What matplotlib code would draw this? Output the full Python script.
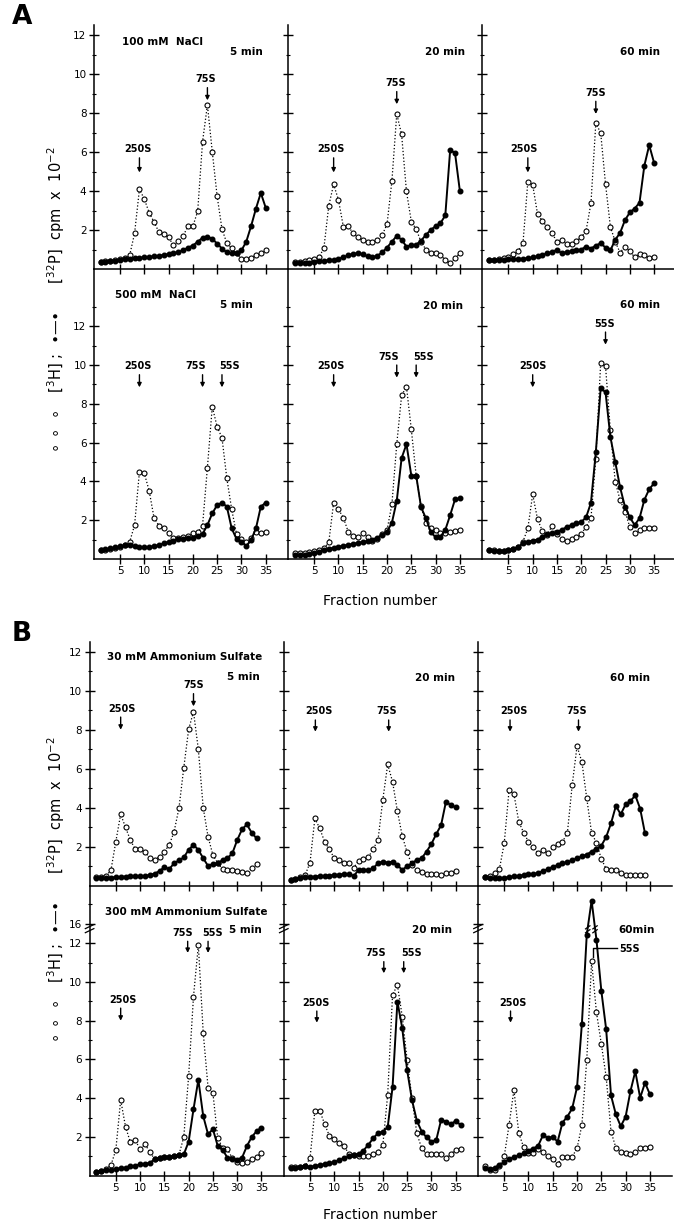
import numpy as np
import matplotlib
matplotlib.use("Agg")
import matplotlib.pyplot as plt
from matplotlib.ticker import FixedLocator, NullFormatter

plt.rcParams['font.family'] = ['DejaVu Sans']

# ---------------- data (fraction number vs cpm x 10^-2) ----------------
fr34 = np.arange(1, 35)
fr35 = np.arange(1, 36)
fr36 = np.arange(1, 37)

# Panel A : NaCl
na100_5_3H = [0.37, 0.40, 0.42, 0.45, 0.50, 0.55, 0.72, 1.83, 4.09, 3.59, 2.89, 2.41, 1.90, 1.78, 1.63,
              1.21, 1.42, 1.70, 2.19, 2.18, 2.97, 6.53, 8.41, 6.02, 3.74, 2.05, 1.32, 1.06, 0.80, 0.53,
              0.53, 0.56, 0.72, 0.80, 0.97]
na100_5_32P = [0.35, 0.38, 0.40, 0.43, 0.47, 0.50, 0.52, 0.55, 0.57, 0.60, 0.62, 0.65, 0.68, 0.72, 0.76,
               0.80, 0.88, 0.95, 1.10, 1.20, 1.40, 1.60, 1.65, 1.55, 1.30, 1.05, 0.85, 0.80, 0.80, 0.95,
               1.40, 2.20, 3.10, 3.90, 3.15]
na100_20_3H = [0.37, 0.38, 0.42, 0.48, 0.52, 0.59, 1.09, 3.25, 4.34, 3.54, 2.17, 2.20, 1.83, 1.62, 1.49,
               1.40, 1.37, 1.49, 1.74, 2.30, 4.51, 7.95, 6.90, 3.98, 2.43, 2.04, 1.40, 1.00, 0.80, 0.80,
               0.72, 0.46, 0.29, 0.55, 0.80]
na100_20_32P = [0.30, 0.30, 0.30, 0.32, 0.35, 0.40, 0.42, 0.45, 0.48, 0.52, 0.60, 0.70, 0.78, 0.80, 0.75,
                0.65, 0.60, 0.68, 0.85, 1.10, 1.40, 1.70, 1.50, 1.15, 1.22, 1.25, 1.45, 1.75, 2.00, 2.20,
                2.35, 2.75, 6.10, 5.95, 4.00]
na100_60_3H = [0.46, 0.48, 0.52, 0.58, 0.63, 0.75, 0.92, 1.32, 4.48, 4.31, 2.82, 2.46, 2.15, 1.83, 1.40,
               1.49, 1.28, 1.28, 1.45, 1.62, 1.97, 3.37, 7.47, 6.99, 4.36, 2.17, 1.40, 0.84, 1.15, 0.92,
               0.60, 0.75, 0.72, 0.56, 0.60]
na100_60_32P = [0.45, 0.45, 0.47, 0.48, 0.50, 0.50, 0.52, 0.53, 0.55, 0.60, 0.65, 0.72, 0.80, 0.88, 0.98,
                0.80, 0.88, 0.90, 0.95, 1.00, 1.15, 1.05, 1.20, 1.32, 1.10, 0.95, 1.50, 1.85, 2.50, 2.90,
                3.10, 3.40, 5.30, 6.35, 5.45]

na500_5_3H = [0.46, 0.48, 0.50, 0.55, 0.60, 0.70, 0.89, 1.75, 4.50, 4.42, 3.52, 2.13, 1.72, 1.58, 1.32,
              1.10, 1.10, 1.12, 1.18, 1.32, 1.37, 1.72, 4.71, 7.85, 6.82, 6.25, 4.16, 2.56, 1.29, 1.03,
              0.86, 1.10, 1.41, 1.36, 1.41]
na500_5_32P = [0.46, 0.50, 0.55, 0.60, 0.65, 0.70, 0.72, 0.68, 0.62, 0.60, 0.62, 0.66, 0.72, 0.80, 0.89,
               0.95, 1.01, 1.05, 1.08, 1.10, 1.20, 1.29, 1.75, 2.35, 2.78, 2.90, 2.70, 1.58, 1.03, 0.89,
               0.67, 0.98, 1.58, 2.70, 2.90]
na500_20_3H = [0.30, 0.30, 0.30, 0.35, 0.40, 0.45, 0.55, 0.86, 2.90, 2.56, 2.13, 1.41, 1.18, 1.15, 1.35,
               1.15, 0.93, 1.01, 1.29, 1.49, 2.82, 5.92, 8.43, 8.88, 6.68, 4.30, 2.71, 1.86, 1.60, 1.49,
               1.35, 1.35, 1.38, 1.43, 1.49]
na500_20_32P = [0.20, 0.20, 0.22, 0.25, 0.30, 0.35, 0.45, 0.52, 0.58, 0.63, 0.68, 0.73, 0.78, 0.83, 0.88,
                0.93, 1.00, 1.10, 1.25, 1.41, 1.87, 3.00, 5.20, 5.92, 4.30, 4.30, 2.68, 2.10, 1.40, 1.12,
                1.15, 1.50, 2.26, 3.07, 3.12]
na500_60_3H = [0.46, 0.44, 0.43, 0.43, 0.45, 0.50, 0.60, 0.90, 1.58, 3.33, 2.05, 1.44, 1.24, 1.72, 1.29,
               1.01, 0.95, 1.01, 1.12, 1.29, 1.66, 2.09, 5.16, 10.08, 9.94, 6.64, 3.98, 3.04, 2.44, 1.66,
               1.35, 1.52, 1.61, 1.61, 1.61]
na500_60_32P = [0.45, 0.42, 0.40, 0.42, 0.45, 0.50, 0.62, 0.80, 0.90, 0.95, 1.00, 1.15, 1.30, 1.32, 1.40,
                1.50, 1.65, 1.75, 1.85, 1.90, 2.15, 2.90, 5.50, 8.80, 8.60, 6.30, 5.00, 3.70, 2.70, 2.15,
                1.75, 2.10, 3.05, 3.60, 3.90]

# Panel B : ammonium sulfate
as30_5_3H = [0.43, 0.45, 0.50, 0.80, 2.26, 3.67, 2.99, 2.34, 1.87, 1.87, 1.75, 1.41, 1.32, 1.49, 1.75,
             2.09, 2.77, 3.97, 6.05, 8.02, 8.92, 6.99, 4.00, 2.51, 1.57, 1.15, 0.84, 0.80, 0.80, 0.77,
             0.72, 0.67, 0.89, 1.10]
as30_5_32P = [0.38, 0.40, 0.40, 0.42, 0.43, 0.45, 0.47, 0.48, 0.50, 0.50, 0.50, 0.55, 0.62, 0.75, 0.95,
              0.85, 1.15, 1.30, 1.45, 1.84, 2.09, 1.84, 1.41, 1.01, 1.12, 1.15, 1.32, 1.41, 1.66, 2.34,
              2.89, 3.14, 2.71, 2.43]
as30_20_3H = [0.30, 0.35, 0.45, 0.55, 1.18, 3.45, 2.94, 2.26, 1.86, 1.41, 1.32, 1.18, 1.18, 0.92, 1.28,
              1.35, 1.45, 1.88, 2.34, 4.42, 6.22, 5.33, 3.82, 2.55, 1.71, 1.06, 0.80, 0.72, 0.60, 0.58,
              0.58, 0.55, 0.63, 0.63, 0.77]
as30_20_32P = [0.30, 0.35, 0.38, 0.43, 0.45, 0.47, 0.50, 0.50, 0.52, 0.55, 0.57, 0.60, 0.60, 0.50, 0.80,
               0.80, 0.80, 0.89, 1.15, 1.24, 1.18, 1.24, 1.06, 0.80, 1.01, 1.15, 1.32, 1.41, 1.75, 2.14,
               2.65, 3.11, 4.31, 4.14, 4.02]
as30_60_3H = [0.46, 0.50, 0.63, 0.84, 2.17, 4.91, 4.70, 3.28, 2.72, 2.26, 1.97, 1.66, 1.83, 1.66, 1.97,
              2.14, 2.26, 2.68, 5.16, 7.16, 6.34, 4.48, 2.70, 2.20, 1.38, 0.86, 0.81, 0.81, 0.64, 0.56,
              0.56, 0.56, 0.56, 0.56]
as30_60_32P = [0.43, 0.42, 0.40, 0.40, 0.40, 0.45, 0.48, 0.50, 0.55, 0.58, 0.60, 0.65, 0.75, 0.85, 0.97,
               1.05, 1.15, 1.20, 1.30, 1.40, 1.50, 1.60, 1.75, 1.90, 2.05, 2.50, 3.20, 4.09, 3.66, 4.17,
               4.34, 4.63, 3.95, 2.68]

as300_5_3H = [0.21, 0.25, 0.35, 0.55, 1.33, 3.91, 2.53, 1.72, 1.84, 1.36, 1.62, 1.24, 0.85, 0.90, 0.95,
              0.98, 1.02, 1.07, 2.00, 5.15, 9.25, 11.90, 7.39, 4.55, 4.26, 1.93, 1.45, 1.36, 0.90, 0.72,
              0.64, 0.72, 0.85, 0.98, 1.19]
as300_5_32P = [0.21, 0.25, 0.28, 0.30, 0.35, 0.38, 0.42, 0.48, 0.52, 0.58, 0.62, 0.66, 0.85, 0.90, 0.95,
               0.98, 1.00, 1.07, 1.10, 1.76, 3.43, 4.95, 3.08, 2.14, 2.40, 1.53, 1.33, 0.93, 0.88, 0.83,
               0.93, 1.53, 2.00, 2.30, 2.47]
as300_20_3H = [0.46, 0.45, 0.45, 0.50, 0.90, 3.36, 3.36, 2.67, 2.05, 1.88, 1.67, 1.55, 1.12, 1.07, 1.02,
               1.02, 1.02, 1.12, 1.24, 1.59, 4.19, 9.33, 9.85, 8.21, 5.97, 3.99, 2.19, 1.41, 1.10, 1.10,
               1.10, 1.10, 0.93, 1.12, 1.33, 1.36]
as300_20_32P = [0.38, 0.40, 0.45, 0.50, 0.46, 0.50, 0.55, 0.60, 0.65, 0.70, 0.80, 0.90, 1.00, 1.07, 1.12,
                1.30, 1.59, 1.93, 2.19, 2.28, 2.50, 4.57, 8.99, 7.61, 5.45, 3.91, 2.84, 2.28, 1.98, 1.76,
                1.84, 2.88, 2.79, 2.65, 2.83, 2.62]
as300_60_3H = [0.49, 0.29, 0.29, 0.50, 1.00, 2.62, 4.43, 2.19, 1.47, 1.19, 1.19, 1.36, 1.24, 1.02, 0.85,
               0.60, 0.98, 0.98, 0.98, 1.41, 2.62, 5.98, 11.06, 8.43, 6.80, 5.10, 2.27, 1.45, 1.24, 1.19,
               1.12, 1.24, 1.45, 1.45, 1.50]
as300_60_32P = [0.38, 0.35, 0.40, 0.55, 0.70, 0.85, 0.95, 1.05, 1.15, 1.30, 1.40, 1.55, 2.10, 1.95, 2.00,
                1.76, 2.74, 3.05, 3.47, 4.57, 7.85, 12.44, 17.20, 12.18, 9.55, 7.55, 4.14, 3.16, 2.55, 3.04,
                4.36, 5.39, 4.02, 4.80, 4.20]

x_ticks = [5, 10, 15, 20, 25, 30, 35]
y_major = [2, 4, 6, 8, 10, 12]
y_minor = [1, 3, 5, 7, 9, 11]

# broken axis for the 300 mM ammonium sulfate row
BRK_REAL = [-50.0, 12.5, 16.0, 60.0]
BRK_DRAW = [-50.0, 12.5, 13.0, 57.0]


def fwd(y):
    return np.interp(y, BRK_REAL, BRK_DRAW)


def inv(y):
    return np.interp(y, BRK_DRAW, BRK_REAL)


# ---------------- figure ----------------
W, H = 674, 1227
fig = plt.figure(figsize=(W / 100, H / 100), dpi=100)

COLW = 194.2
XL = (-0.4, 39.6)
TXT = dict(fontsize=7.5, fontweight='bold', color='black')


def add_ax(left, top, width, height):
    return fig.add_axes([left / W, 1 - (top + height) / H, width / W, height / H])


def style(ax, col, bottom_row, ytop, broken=False):
    ax.set_xlim(*XL)
    if broken:
        ax.set_yscale('function', functions=(fwd, inv))
        ax.set_ylim(0, inv(ytop))
        ax.yaxis.set_major_locator(FixedLocator(y_major + [16]))
        ax.yaxis.set_minor_locator(FixedLocator(y_minor + [17]))
    else:
        ax.set_ylim(0, ytop)
        ax.yaxis.set_major_locator(FixedLocator(y_major))
        ax.yaxis.set_minor_locator(FixedLocator(y_minor + ([13] if ytop > 13.5 else [])))
    ax.xaxis.set_major_locator(FixedLocator(x_ticks))
    for s in ('top', 'right'):
        ax.spines[s].set_visible(False)
    for s in ('left', 'bottom'):
        ax.spines[s].set_linewidth(1.1)
    ax.tick_params(which='major', direction='inout', length=6.5, width=1.0, labelsize=7.5, pad=2)
    ax.tick_params(which='minor', direction='inout', length=3.5, width=0.8)
    if col != 0:
        ax.yaxis.set_major_formatter(NullFormatter())
    if not bottom_row:
        ax.xaxis.set_major_formatter(NullFormatter())
    ax.patch.set_alpha(0)


def draw(ax, fr, h3, p32):
    ax.plot(fr, h3, ls=':', lw=0.9, color='k', marker='o', ms=3.6, mfc='white',
            mec='k', mew=0.8, zorder=3, clip_on=False)
    ax.plot(fr, p32, ls='-', lw=1.4, color='k', marker='o', ms=3.3, mfc='k',
            mec='k', zorder=4, clip_on=False)


def sarrow(ax, label, xa, ytail, ytip, xt=None):
    ax.annotate('', xy=(xa, ytip), xytext=(xa, ytail),
                arrowprops=dict(arrowstyle='-|>', color='k', lw=1.0, mutation_scale=6,
                                shrinkA=0, shrinkB=0))
    ax.text(xa if xt is None else xt, ytail + 0.18, label, ha='center', va='bottom',
            fontsize=7, fontweight='bold')


def header(ax, x, y, s, ha):
    ax.text(x, y, s, transform=ax.transAxes, ha=ha, va='center', **TXT)


# ---------------- Panel A ----------------
A_L = 93.8
A_rows = [(25.25, 243.75, 12.5), (269.0, 290.0, 14.95)]
A_data = [
    [(na100_5_3H, na100_5_32P), (na100_20_3H, na100_20_32P), (na100_60_3H, na100_60_32P)],
    [(na500_5_3H, na500_5_32P), (na500_20_3H, na500_20_32P), (na500_60_3H, na500_60_32P)],
]
axA = [[None] * 3 for _ in range(2)]
for r, (top, hgt, ytop) in enumerate(A_rows):
    for c in range(3):
        ax = add_ax(A_L + c * COLW, top, COLW, hgt)
        style(ax, c, r == 1, ytop)
        draw(ax, fr35, *A_data[r][c])
        axA[r][c] = ax

# headers A
header(axA[0][0], 0.144, 0.933, '100 mM  NaCl', 'left')
header(axA[0][0], 0.871, 0.889, '5 min', 'right')
header(axA[0][1], 0.912, 0.889, '20 min', 'right')
header(axA[0][2], 0.915, 0.889, '60 min', 'right')
header(axA[1][0], 0.109, 0.910, '500 mM  NaCl', 'left')
header(axA[1][0], 0.820, 0.876, '5 min', 'right')
header(axA[1][1], 0.900, 0.873, '20 min', 'right')
header(axA[1][2], 0.915, 0.876, '60 min', 'right')

sarrow(axA[0][0], '250S', 9, 5.7, 4.95, 8.6)
sarrow(axA[0][0], '75S', 23, 9.3, 8.65, 22.6)
sarrow(axA[0][1], '250S', 9, 5.7, 4.95, 8.5)
sarrow(axA[0][1], '75S', 22, 9.1, 8.45, 21.7)
sarrow(axA[0][2], '250S', 9, 5.7, 4.95, 8.2)
sarrow(axA[0][2], '75S', 23, 8.6, 7.95, 23.0)

sarrow(axA[1][0], '250S', 9, 9.5, 8.85, 8.6)
sarrow(axA[1][0], '75S', 22, 9.5, 8.85, 20.5)
sarrow(axA[1][0], '55S', 26, 9.5, 8.85, 27.5)
sarrow(axA[1][1], '250S', 9, 9.5, 8.85, 8.4)
sarrow(axA[1][1], '75S', 22, 10.0, 9.35, 20.3)
sarrow(axA[1][1], '55S', 26, 10.0, 9.35, 27.5)
sarrow(axA[1][2], '250S', 10, 9.5, 8.85, 10.0)
sarrow(axA[1][2], '55S', 25, 11.7, 11.05, 24.9)

# ---------------- Panel B ----------------
B_L = 89.6
B_rows = [(642.0, 243.7, 12.5), (885.7, 290.0, 14.97)]
B_data = [
    [(fr34, as30_5_3H, as30_5_32P), (fr35, as30_20_3H, as30_20_32P), (fr34, as30_60_3H, as30_60_32P)],
    [(fr35, as300_5_3H, as300_5_32P), (fr36, as300_20_3H, as300_20_32P), (fr35, as300_60_3H, as300_60_32P)],
]
axB = [[None] * 3 for _ in range(2)]
for r, (top, hgt, ytop) in enumerate(B_rows):
    for c in range(3):
        ax = add_ax(B_L + c * COLW, top, COLW, hgt)
        style(ax, c, r == 1, ytop, broken=(r == 1))
        fr, h3, p32 = B_data[r][c]
        draw(ax, fr, h3, p32)
        axB[r][c] = ax
        if r == 1:
            # axis break marks on the vertical axis
            for dy in (0.0, 0.014):
                ax.plot([-0.022, 0.022], [0.838 + dy, 0.852 + dy], color='k', lw=0.9,
                        transform=ax.transAxes, clip_on=False, zorder=6)

header(axB[0][0], 0.088, 0.938, '30 mM Ammonium Sulfate', 'left')
header(axB[0][0], 0.877, 0.858, '5 min', 'right')
header(axB[0][1], 0.882, 0.853, '20 min', 'right')
header(axB[0][2], 0.886, 0.853, '60 min', 'right')
header(axB[1][0], 0.079, 0.910, '300 mM Ammonium Sulfate', 'left')
header(axB[1][0], 0.886, 0.846, '5 min', 'right')
header(axB[1][1], 0.864, 0.846, '20 min', 'right')
header(axB[1][2], 0.911, 0.846, '60min', 'right')

sarrow(axB[0][0], '250S', 6, 8.65, 8.0, 6.2)
sarrow(axB[0][0], '75S', 21, 9.85, 9.2, 21.0)
sarrow(axB[0][1], '250S', 6.1, 8.5, 7.9, 6.8)
sarrow(axB[0][1], '75S', 21.2, 8.5, 7.9, 20.8)
sarrow(axB[0][2], '250S', 6.2, 8.5, 7.9, 7.1)
sarrow(axB[0][2], '75S', 20.3, 8.5, 7.9, 20.0)

sarrow(axB[1][0], '250S', 6, 8.65, 8.0, 6.4)
sarrow(axB[1][0], '75S', 19.8, 12.1, 11.5, 18.7)
sarrow(axB[1][0], '55S', 24, 12.1, 11.5, 25.0)
sarrow(axB[1][1], '250S', 6.4, 8.5, 7.9, 6.3)
sarrow(axB[1][1], '75S', 20.2, 11.05, 10.45, 18.5)
sarrow(axB[1][1], '55S', 24.3, 11.05, 10.45, 26.0)
sarrow(axB[1][2], '250S', 6.3, 8.5, 7.9, 6.8)
# 55S pointer in 60 min panel
b3 = axB[1][2]
b3.plot([23.2, 23.2, 28.3], [11.3, 11.75, 11.75], color='k', lw=1.0, zorder=6)
b3.text(28.6, 11.7, '55S', ha='left', va='center', fontsize=7, fontweight='bold')
# break marks on the peak legs
for xb in (22.2, 23.7):
    for yb in (12.62, 12.82):
        b3.plot([xb - 0.45, xb + 0.45], [inv(yb - 0.08), inv(yb + 0.08)], color='k', lw=0.9, zorder=7)

# ---------------- labels ----------------
ylab = (r'$\circ\;\circ\;\circ$   [$^{3}$H] ;  $\bullet$—$\bullet$      [$^{32}$P]  cpm  x  10$^{-2}$')
fig.text(56 / W, 1 - 300 / H, ylab, rotation=90, ha='center', va='center', fontsize=10.5)
fig.text(56 / W, 1 - 890 / H, ylab, rotation=90, ha='center', va='center', fontsize=10.5)
fig.text(380 / W, 1 - 601 / H, 'Fraction number', ha='center', va='center', fontsize=10)
fig.text(380 / W, 1 - 1215 / H, 'Fraction number', ha='center', va='center', fontsize=10)
fig.text(22 / W, 1 - 17 / H, 'A', ha='center', va='center', fontsize=19, fontweight='bold')
fig.text(22 / W, 1 - 634 / H, 'B', ha='center', va='center', fontsize=19, fontweight='bold')

fig.savefig('out.png', dpi=100)
